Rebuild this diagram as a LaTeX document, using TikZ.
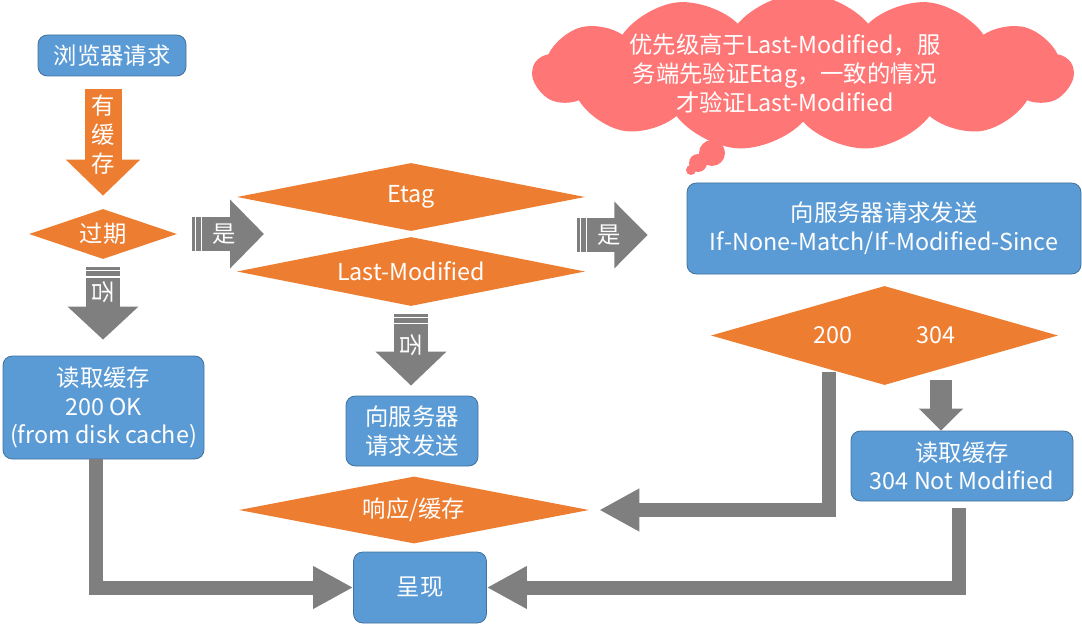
\documentclass[tikz,border=0pt]{standalone}
\usepackage{fontspec}
\setmainfont{Noto Sans CJK SC}
\usetikzlibrary{shapes.geometric,shapes.symbols,arrows.meta,calc}

\definecolor{boxblue}{HTML}{5B9BD5}
\definecolor{boxline}{HTML}{41719C}
\definecolor{decorange}{HTML}{ED7D31}
\definecolor{flowgray}{HTML}{7F7F7F}
\definecolor{cloudred}{HTML}{FF7676}

\begin{document}
\begin{tikzpicture}[x=0.75pt, y=-0.75pt, font=\fontsize{17.5}{21.5}\selectfont,
                    box node/.style={rectangle,rounded corners=7pt,draw=boxline,line width=0.6pt,
                                     fill=boxblue,text=white,align=center,inner sep=0pt},
                    dec node/.style={diamond,fill=decorange,text=white,inner sep=0pt},
                    block arrow/.style n args={4}{draw=#1,line width=#2,-{Triangle[width=#3,length=#4]}},
                    arrow text/.style={text=white,align=center,inner sep=0pt},
                    stripe/.style={draw=white,line width=1.1pt},
                    conn/.style={draw=flowgray,line width=10.5pt,-{Triangle[width=30pt,length=30pt]}}]

\useasboundingbox (0,0) rectangle (1082,631);

% boxes and decisions
\node[box node,minimum width=111pt,minimum height=30.75pt] (req) at (112,55.5) {浏览器请求};
\node[dec node,aspect=2.96,minimum width=111pt,minimum height=37.5pt] (exp) at (103,234) {过期};
\node[dec node,aspect=5.1,minimum width=261pt,minimum height=51pt] (etag) at (411,197) {Etag};
\node[dec node,aspect=5.1,minimum width=261pt,minimum height=51.75pt] (lm) at (411,271.5) {Last-Modified};
\node[box node,minimum width=150.75pt,minimum height=77.25pt] (hit) at (103.5,407.5) {读取缓存\\200 OK\\(from disk cache)};
\node[box node,minimum width=99pt,minimum height=52.5pt] (ask) at (412,431) {向服务器\\请求发送};
\node[dec node,aspect=5.2,minimum width=262.5pt,minimum height=50.25pt] (resp) at (414,510) {响应/缓存};
\node[box node,minimum width=99.75pt,minimum height=53.25pt] (show) at (420,587.5) {呈现};
\node[box node,minimum width=295.5pt,minimum height=68.25pt] (send) at (884,228.5) {向服务器请求发送\\If-None-Match/If-Modified-Since};
\node[dec node,aspect=3.5,minimum width=260.25pt,minimum height=74.25pt] (code) at (884.5,335.5) {200\hspace{48pt}304};
\node[box node,minimum width=166.5pt,minimum height=52.5pt] (nm) at (962,466) {读取缓存\\304 Not Modified};

% note cloud
\node[cloud,cloud puffs=13,cloud puff arc=100,cloud ignores aspect,
      minimum width=405pt,minimum height=118pt,fill=cloudred] (note) at (803,72) {};
\fill[cloudred] (712,153) circle (13) (698,163) circle (9) (691,170) circle (5);
\node[text=white,align=center] (notetext) at (785,73.5)
  {优先级高于Last-Modified，服\\务端先验证Etag，一致的情况\\才验证Last-Modified};

\coordinate (yes1tip) at (264,234);
\coordinate (yes2tail) at (577,235);
\coordinate (c304) at (941,380);
\coordinate (c200) at (829,372);

% block arrows
\draw[block arrow={decorange}{27.75pt}{54pt}{27pt},shorten <=9.75pt,shorten >=9.75pt]
    (exp.north |- req.south) -- (exp.north)
    node[arrow text,pos=.44] {有\\缓\\存};
\draw[block arrow={flowgray}{24.75pt}{50.25pt}{25.5pt},shorten <=11.25pt]
    (exp.east) -- (yes1tip) node[arrow text,pos=.54] {是};
\draw[stripe] (195.3,216) -- (195.3,252);
\draw[stripe] (201.5,216) -- (201.5,252);
\draw[block arrow={flowgray}{25.5pt}{51.75pt}{24.75pt},shorten <=6pt,shorten >=12pt]
    (exp.south) -- (exp.south |- hit.north) node[arrow text,pos=.34,rotate=-90] {否};
\draw[stripe] (84,270.5) -- (122,270.5);
\draw[stripe] (84,277) -- (122,277);
\draw[block arrow={flowgray}{24.75pt}{48.75pt}{25pt},shorten >=29.25pt]
    (yes2tail) -- (send.west |- yes2tail) node[arrow text,pos=.29] {是};
\draw[stripe] (580.3,217) -- (580.3,253);
\draw[stripe] (586.5,217) -- (586.5,253);
\draw[block arrow={flowgray}{25.5pt}{51.75pt}{25.5pt},shorten <=6pt,shorten >=7.5pt]
    (lm.south) -- (lm.south |- ask.north) node[arrow text,pos=.43,rotate=-90] {否};
\draw[stripe] (393,317.5) -- (430,317.5);
\draw[stripe] (393,323.5) -- (430,323.5);
\draw[block arrow={flowgray}{16.5pt}{32.25pt}{16.5pt}]
    (c304) -- (c304 |- nm.north);

% paths to output
\draw[conn,shorten >=7.5pt] (c200) |- (resp.east);
\draw[conn] ([xshift=-5.6pt]hit.south) |- (show.west);
\draw[conn,shorten <=5pt] ([xshift=-2.25pt]nm.south) |- (show.east);

\end{tikzpicture}
\end{document}
